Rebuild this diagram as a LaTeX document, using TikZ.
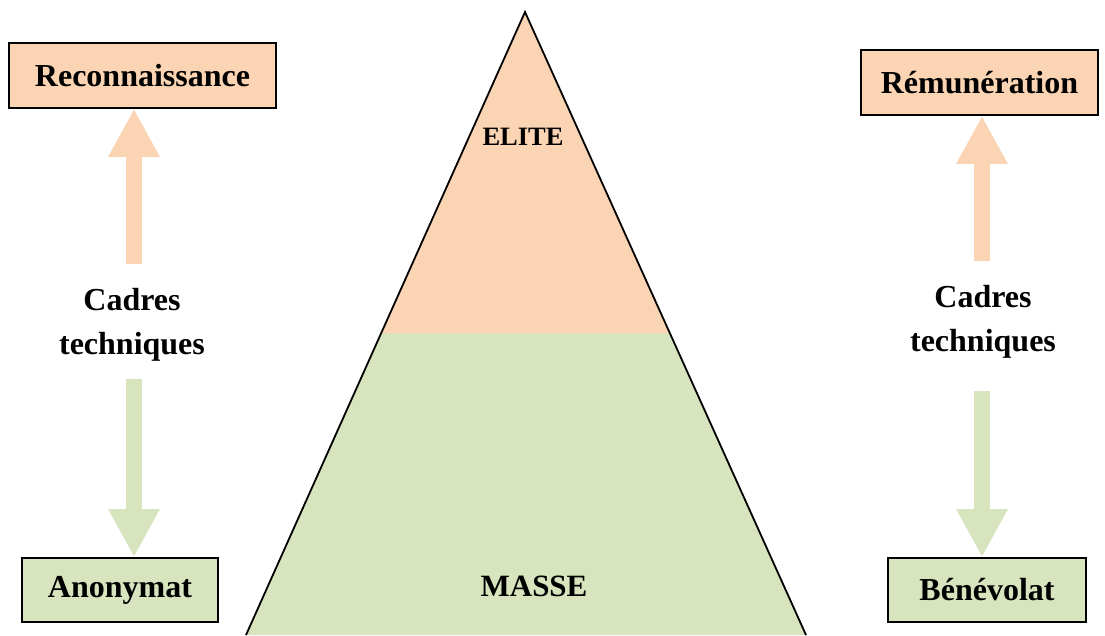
\documentclass[tikz,border=0pt]{standalone}
\usepackage{fontspec}
\setmainfont{Liberation Serif}
\usetikzlibrary{arrows.meta}
\definecolor{peach}{HTML}{FBD4B4}
\definecolor{olive}{HTML}{D7E4BD}
\tikzset{
  box/.style={draw=black,line width=1.6pt,inner sep=0pt,font=\fontsize{32}{38}\selectfont\bfseries},
  lbl/.style={align=center,font=\fontsize{32}{44}\selectfont\bfseries},
  bigarrow/.style={line width=16pt,-{Triangle[width=48pt,length=48pt]}},
}
\begin{document}
\begin{tikzpicture}[x=1pt,y=-1pt]
\useasboundingbox (0,0) rectangle (1105,635);
% pyramid
\coordinate (apex) at (525,12);
\coordinate (ml) at (381,333);
\coordinate (mr) at (669,333);
\coordinate (bl) at (246,635);
\coordinate (br) at (806,635);
\fill[peach] (apex) -- (ml) -- (mr) -- cycle;
\fill[olive] (ml) -- (mr) -- (br) -- (bl) -- cycle;
\draw[line width=1.8pt] (bl) -- (apex) -- (br);
\node[font=\fontsize{26.5}{31}\selectfont\bfseries] (elite) at (523,137) {ELITE};
\node[font=\fontsize{31}{37}\selectfont\bfseries] (masse) at (534,586) {MASSE};
% boxes
\node[box,fill=peach,minimum width=267pt,minimum height=65pt] (recon) at (142.5,75.5) {Reconnaissance};
\node[box,fill=olive,minimum width=196pt,minimum height=64pt] (anon) at (120,590) {Anonymat};
\node[box,fill=peach,minimum width=237pt,minimum height=65pt] (remu) at (979.5,82.5) {Rémunération};
\node[box,fill=olive,minimum width=198pt,minimum height=64pt] (bene) at (987,590) {Bénévolat};
% labels
\node[lbl] (cadL) at (132,325) {Cadres\\techniques};
\node[lbl] (cadR) at (983,322) {Cadres\\techniques};
% arrows
\coordinate (lu) at (134,264);
\coordinate (ld) at (134,379);
\coordinate (ru) at (982,261);
\coordinate (rd) at (982,391);
\draw[bigarrow,peach] (lu) -- (recon.south -| lu);
\draw[bigarrow,olive] (ld) -- (anon.north -| ld);
\draw[bigarrow,peach] (ru) -- (remu.south -| ru);
\draw[bigarrow,olive] (rd) -- (bene.north -| rd);
\end{tikzpicture}
\end{document}
